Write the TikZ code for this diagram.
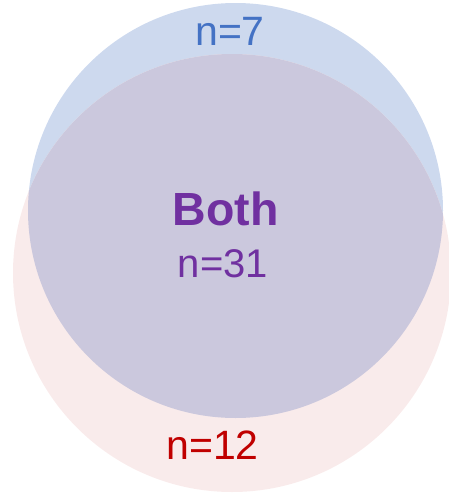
\documentclass[tikz,border=0pt]{standalone}
\usepackage{fontspec}
\setmainfont{Liberation Sans}
\definecolor{bluefill}{HTML}{CDD9EE}
\definecolor{redfill}{HTML}{F9EBEB}
\definecolor{bothfill}{HTML}{CBC8DD}
\definecolor{bluetext}{HTML}{4472C4}
\definecolor{purpletext}{HTML}{7030A0}
\definecolor{redtext}{HTML}{C00000}
\tikzset{
  lbl/.style={anchor=base, inner sep=0pt, font=\fontsize{41}{41}\selectfont},
}
\begin{document}
\begin{tikzpicture}[x=1pt,y=-1pt]
\useasboundingbox (0,0) rectangle (449,493);
\coordinate (bc) at (235.5,210.5);
\coordinate (rc) at (232,273);
\fill[bluefill] (bc) circle[radius=207.5];
\fill[redfill] (rc) circle[radius=219];
\begin{scope}
  \clip (bc) circle[radius=207.5];
  \fill[bothfill] (rc) circle[radius=219];
\end{scope}
\node[lbl, text=bluetext] (n7) at (230,45) {n=7};
\node[lbl, text=purpletext, font=\fontsize{46.5}{46.5}\selectfont\bfseries] (both) at (225.5,225) {Both};
\node[lbl, text=purpletext, font=\fontsize{40}{40}\selectfont] (n31) at (223,277) {n=31};
\node[lbl, text=redtext] (n12) at (212.5,459) {n=12};
\end{tikzpicture}
\end{document}
